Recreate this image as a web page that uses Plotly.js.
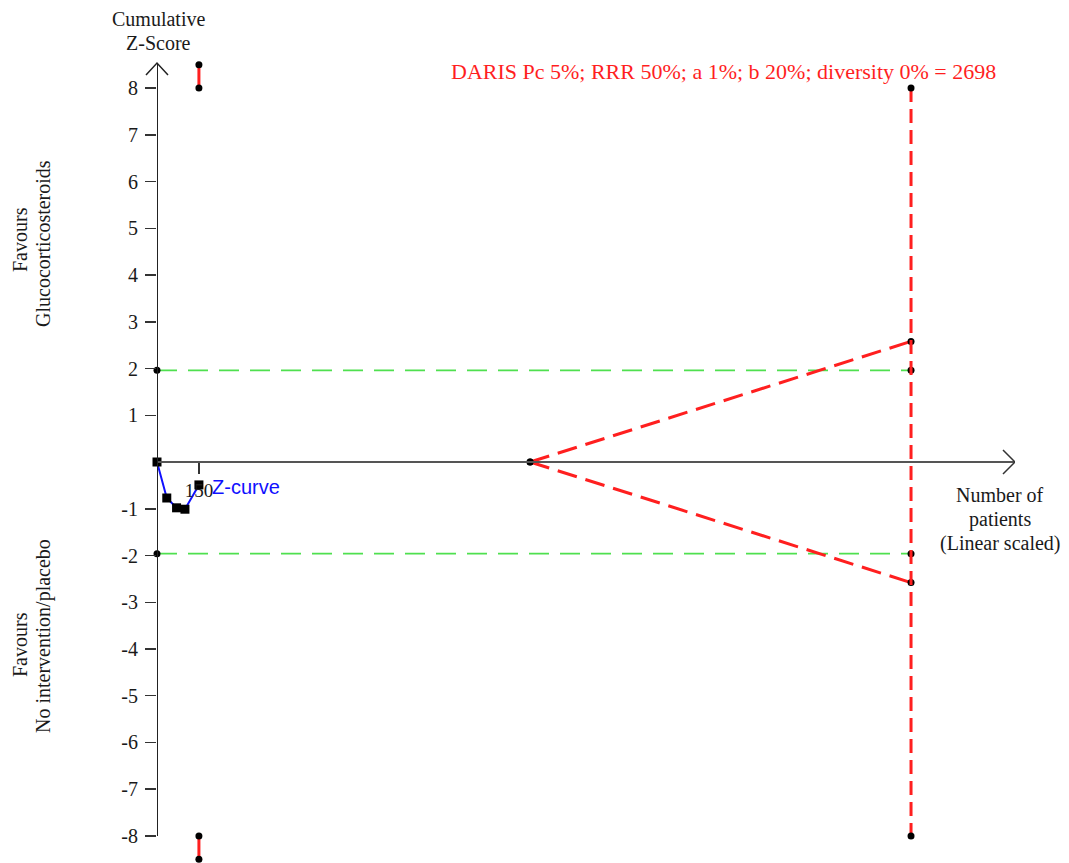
<!DOCTYPE html>
<html>
<head>
<meta charset="utf-8">
<script src="https://cdn.plot.ly/plotly-3.0.1.min.js"></script>
<style>html,body{margin:0;padding:0;background:#fff;}#chart{width:1069px;height:863px;}</style>
</head>
<body>
<div id="chart"></div>
<script>
// ---- data ----
var zPatients = [0, 35, 70, 100, 150];
var zScores   = [0, -0.77, -0.98, -1.01, -0.49];
var risPatients = 2698;
var apexPatients = 1335;
var conventionalZ = [1.96, -1.96];
var monitoringZ = [2.58, -2.58];
var alphaBoundX = 150;
var alphaBoundUpper = [8, 8.5];
var alphaBoundLower = [-8, -8.5];
var futilityLimit = [8, -8];
var yTickVals = [-8,-7,-6,-5,-4,-3,-2,-1,1,2,3,4,5,6,7,8];
var yTickText = ['-8','-7','-6','-5','-4','-3','-2','-1','1','2','3','4','5','6','7','8'];
var xTickVals = [150];
var xTickText = ['150'];
var risLabel = 'DARIS Pc 5%; RRR 50%; a 1%; b 20%; diversity 0% = 2698';

var XMAX = 3070, YMAX = 8.535;
var SERIF = '"Liberation Serif", "Times New Roman", serif';
var SANS = '"Liberation Sans", Arial, sans-serif';
var RED = '#ff1f1f', GREEN = '#4fe04f', BLUE = '#1010ff', INK = '#1a1a1a';
var dot = {color:'#000', size:7, symbol:'circle'};

var traces = [];
conventionalZ.forEach(function(z){
  traces.push({x:[0, risPatients], y:[z, z], mode:'lines+markers', cliponaxis:false,
    line:{color:GREEN, width:1.6, dash:'20px,11px'}, marker:dot, hoverinfo:'skip'});
});
monitoringZ.forEach(function(z){
  traces.push({x:[apexPatients, risPatients], y:[0, z], mode:'lines+markers', cliponaxis:false,
    line:{color:RED, width:3, dash:'20px,9px'}, marker:dot, hoverinfo:'skip'});
});
traces.push({x:[risPatients, risPatients], y:futilityLimit, mode:'lines+markers', cliponaxis:false,
  line:{color:RED, width:3, dash:'14px,7px'}, marker:dot, hoverinfo:'skip'});
[alphaBoundUpper, alphaBoundLower].forEach(function(b){
  traces.push({x:[alphaBoundX, alphaBoundX], y:b, mode:'lines+markers', cliponaxis:false,
    line:{color:RED, width:3}, marker:dot, hoverinfo:'skip'});
});
traces.push({x:zPatients, y:zScores, mode:'lines+markers', cliponaxis:false,
  line:{color:BLUE, width:2}, marker:{color:'#000', size:9, symbol:'square'}, hoverinfo:'skip'});

// paper-coordinate helpers (plot area: left 157, width 858, top 63, height 798)
function px(v){ return (v-157)/858; }
function py(v){ return (861-v)/798; }
function lbl(x, y, text, opts){
  var a = {xref:'paper', yref:'paper', x:px(x), y:py(y), text:text, showarrow:false,
    font:{family:SERIF, size:20, color:INK}, xanchor:'center', yanchor:'middle'};
  for (var k in (opts||{})) a[k] = opts[k];
  return a;
}

var layout = {
  width:1069, height:863,
  margin:{l:157, r:54, t:63, b:2},
  paper_bgcolor:'#fff', plot_bgcolor:'rgba(0,0,0,0)',
  showlegend:false,
  xaxis:{range:[0, XMAX], anchor:'free', position:0.5, showgrid:false, zeroline:false,
    showline:true, linecolor:'#555', linewidth:2,
    ticks:'outside', ticklen:11, tickwidth:1.5, tickcolor:'#333',
    tickvals:xTickVals, ticktext:xTickText,
    tickfont:{family:SERIF, size:19, color:INK}},
  yaxis:{range:[-YMAX, YMAX], showgrid:false, zeroline:false, showline:false,
    ticks:'outside', ticklen:11, tickwidth:1.5, tickcolor:'#333',
    tickvals:yTickVals, ticktext:yTickText, ticklabelstandoff:3,
    tickfont:{family:SERIF, size:20, color:INK}},
  shapes:[
    {type:'line', xref:'x', yref:'y', x0:0, x1:0, y0:-8, y1:YMAX, line:{color:'#222', width:2}},
    {type:'path', xref:'paper', yref:'paper',
      path:'M '+px(146)+','+py(75)+' L '+px(157)+','+py(63)+' L '+px(168)+','+py(75),
      line:{color:'#222', width:1.5}},
    {type:'path', xref:'x', yref:'y', xsizemode:'pixel', ysizemode:'pixel', xanchor:XMAX, yanchor:0,
      path:'M -12,12 L 0,0 L -12,-12', line:{color:'#333', width:1.5}}
  ],
  annotations:[
    lbl(158, 19, 'Cumulative'),
    lbl(158, 43, 'Z-Score'),
    lbl(20, 240, 'Favours', {textangle:-90}),
    lbl(43, 244, 'Glucocorticosteroids', {textangle:-90}),
    lbl(20, 645, 'Favours', {textangle:-90}),
    lbl(43, 636, 'No intervention/placebo', {textangle:-90}),
    lbl(449, 72, risLabel, {xanchor:'left', font:{family:SERIF, size:22, color:RED}}),
    lbl(210, 487, 'Z-curve', {xanchor:'left', font:{family:SANS, size:20, color:BLUE}}),
    lbl(1000, 495, 'Number of'),
    lbl(1000, 519, 'patients'),
    lbl(1000, 543, '(Linear scaled)')
  ]
};

Plotly.newPlot('chart', traces, layout, {displayModeBar:false, staticPlot:true});
</script>
</body>
</html>
